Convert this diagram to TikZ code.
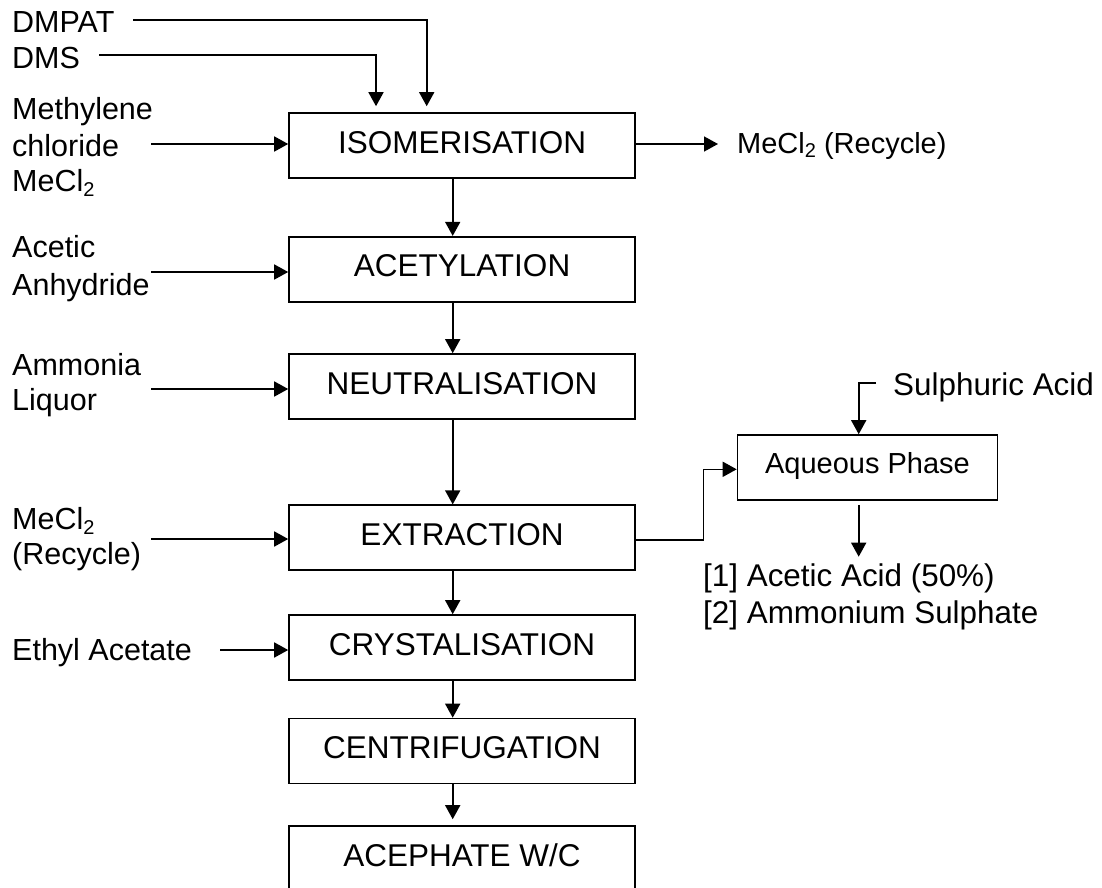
\documentclass[tikz,border=0pt]{standalone}
\usepackage{fontspec}
\setmainfont{Liberation Sans}
\usetikzlibrary{arrows.meta}
\newcommand\subtwo{\raisebox{-5pt}{\fontsize{20}{20}\selectfont 2}}
\begin{document}
\begin{tikzpicture}[x=1pt,y=-1pt,
  stepbox/.style={draw, line width=1.6pt, minimum width=346pt, minimum height=65pt, inner sep=0pt,
    text height=22.5pt, text depth=7pt, font=\fontsize{31.5}{36}\selectfont},
  lbl/.style={inner sep=0pt, anchor=base west, font=\fontsize{30.5}{36}\selectfont},
  rlbl/.style={inner sep=0pt, anchor=base west, font=\fontsize{31.4}{36}\selectfont},
  flow/.style={-{Triangle[length=14pt,width=15pt]}, line width=1.6pt}]
\useasboundingbox (0,0) rectangle (1102,888);
\clip (0,0) rectangle (1102,888);

% main column
\node[stepbox] (iso) at (462,145.5) {ISOMERISATION};
\node[stepbox] (ace) at (462,269.2) {ACETYLATION};
\node[stepbox] (neu) at (462,386.5) {NEUTRALISATION};
\node[stepbox] (ext) at (462,537.7) {EXTRACTION};
\node[stepbox] (cry) at (462,647.5) {CRYSTALISATION};
\node[stepbox] (cen) at (462,751) {CENTRIFUGATION};
\node[stepbox] (acp) at (462,858.5) {ACEPHATE W/C};
\node[stepbox, minimum width=260pt, text height=21pt, text depth=9pt, font=\fontsize{29}{34}\selectfont] (aq) at (867.5,467.5) {Aqueous Phase};

% left labels
\node[lbl] (dmpat) at (12,32.7) {DMPAT};
\node[lbl] (dms) at (12,68.3) {DMS};
\node[lbl] (meth1) at (12,119.3) {Methylene};
\node[lbl] (meth2) at (12,156) {chloride};
\node[lbl] (meth3) at (12,191.5) {MeCl\subtwo};
\node[lbl] (acet1) at (12,257.3) {Acetic};
\node[lbl] (acet2) at (12,295) {Anhydride};
\node[lbl] (amm1) at (12,375) {Ammonia};
\node[lbl] (amm2) at (12,410) {Liquor};
\node[lbl] (rec1) at (12,529.3) {MeCl\subtwo};
\node[lbl] (rec2) at (12,564) {(Recycle)};
\node[lbl] (ethyl) at (12,660) {Ethyl Acetate};

% right labels
\node[inner sep=0pt, anchor=base west, font=\fontsize{29}{34}\selectfont] (recout) at (737,153) {MeCl\subtwo\ (Recycle)};
\node[rlbl] (sulph) at (893,395) {Sulphuric Acid};
\node[rlbl] (prod1) at (703,586.7) {[1] Acetic Acid (50\%)};
\node[rlbl] (prod2) at (703,623) {[2] Ammonium Sulphate};

% coordinates
\coordinate (xa) at (426.7,0);
\coordinate (xb) at (376,0);
\coordinate (xc) at (452.7,0);
\coordinate (xs) at (858.7,0);
\coordinate (dmpatS) at (133,20);
\coordinate (dmsS) at (99,55);
\coordinate (methS) at (151,144);
\coordinate (acetS) at (151,272);
\coordinate (ammS) at (151,389);
\coordinate (recS) at (151,539);
\coordinate (ethS) at (220,650);
\coordinate (recT) at (718,144);
\coordinate (xe) at (703.3,540);
\coordinate (ye) at (0,469.3);
\coordinate (sulS) at (876,383);
\coordinate (prodT) at (858.7,556.7);

% feeds
\draw[flow, shorten >=6pt] (dmpatS) -| (iso.north -| xa);
\draw[flow, shorten >=6pt] (dmsS) -| (iso.north -| xb);
\draw[flow] (methS) -- (methS -| iso.west);
\draw[flow] (acetS) -- (acetS -| ace.west);
\draw[flow] (ammS) -- (ammS -| neu.west);
\draw[flow] (recS) -- (recS -| ext.west);
\draw[flow] (ethS) -- (ethS -| cry.west);

% main flow
\draw[flow] (iso.south -| xc) -- (ace.north -| xc);
\draw[flow] (ace.south -| xc) -- (neu.north -| xc);
\draw[flow] (neu.south -| xc) -- (ext.north -| xc);
\draw[flow] (ext.south -| xc) -- (cry.north -| xc);
\draw[flow] (cry.south -| xc) -- (cen.north -| xc);
\draw[flow, shorten >=6pt] (cen.south -| xc) -- (acp.north -| xc);

% outputs
\draw[flow] (recT -| iso.east) -- (recT);
\draw[flow] (xe -| ext.east) -- (xe) |- (aq.west |- ye);
\draw[flow] (sulS) -| (aq.north -| xs);
\draw[flow, shorten <=4pt] (aq.south -| xs) -- (prodT);
\end{tikzpicture}
\end{document}
